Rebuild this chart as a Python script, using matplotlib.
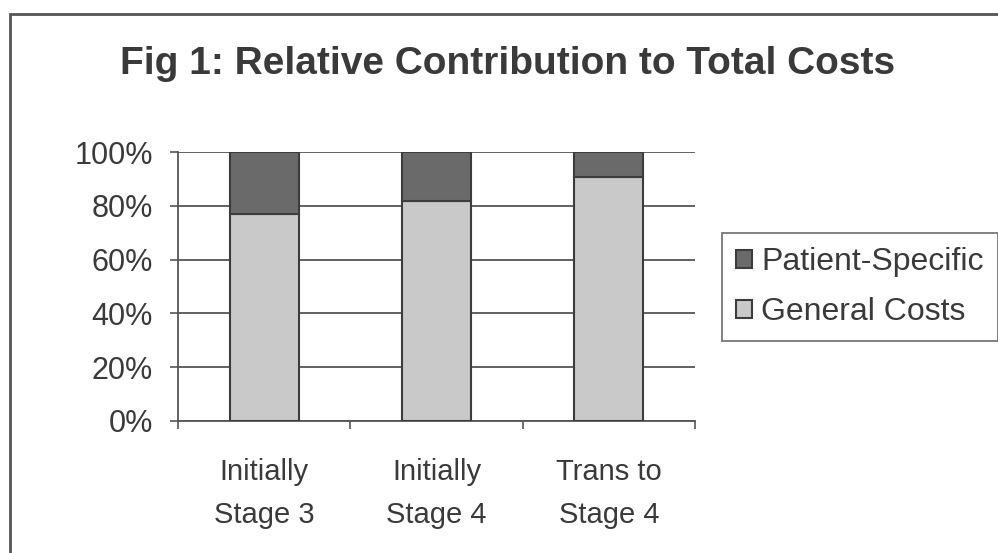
import matplotlib.pyplot as plt
from matplotlib.patches import Rectangle
from matplotlib.ticker import PercentFormatter

categories = ["Initially\nStage 3", "Initially\nStage 4", "Trans to\nStage 4"]
general = [77.1, 81.7, 90.7]
patient = [22.9, 18.3, 9.3]
series_names = ["Patient-Specific", "General Costs"]

plt.rcParams['font.family'] = ['Liberation Sans', 'DejaVu Sans']
txt = '#3a3a3a'

fig = plt.figure(figsize=(9.98, 5.53), dpi=100)
ax = fig.add_axes([0.1784, 0.2387, 0.518, 0.4864])

x = range(len(categories))
b1 = ax.bar(x, general, width=0.4, color='#c9c9c9', edgecolor='#3c3c3c', lw=1.5, zorder=3)
b2 = ax.bar(x, patient, width=0.4, bottom=general, color='#6a6a6a', edgecolor='#3c3c3c', lw=1.5, zorder=3)

ax.set_xlim(-0.5, 2.5)
ax.set_ylim(0, 100)
ax.set_yticks(range(0, 101, 20))
ax.yaxis.set_major_formatter(PercentFormatter(decimals=0))
ax.grid(axis='y', color='#555555', lw=1.3, zorder=1)

ax.set_xticks([-0.5, 0.5, 1.5, 2.5])
ax.set_xticklabels([])
ax.set_xticks(list(x), minor=True)
ax.set_xticklabels(categories, minor=True, fontsize=21, color=txt, linespacing=1.65)
ax.tick_params(axis='x', which='major', length=6, width=1.2, color='#555555', direction='out')
ax.tick_params(axis='x', which='minor', length=0, pad=27)
ax.tick_params(axis='y', length=6, width=1.2, color='#555555', labelsize=22, labelcolor=txt, pad=12)

for s in ['top', 'right']:
    ax.spines[s].set_visible(False)
for s in ['left', 'bottom']:
    ax.spines[s].set_color('#555555')
    ax.spines[s].set_linewidth(1.3)

fig.text(0.509, 0.884, "Fig 1: Relative Contribution to Total Costs", ha='center', va='center',
         fontsize=28, fontweight='bold', color=txt)

leg = fig.legend([b2, b1], series_names, loc='upper left', bbox_to_anchor=(0.723, 0.579),
                 borderaxespad=0, fontsize=23, frameon=True, fancybox=False,
                 handlelength=0.5, handleheight=0.5, handletextpad=0.3,
                 labelspacing=0.62, borderpad=0.45, labelcolor=txt)
leg.get_frame().set_edgecolor('#555555')
leg.get_frame().set_linewidth(1.3)

fig.patches.append(Rectangle((10 / 998, -0.1), 1.2, 1 - 14 / 553 + 0.1, transform=fig.transFigure,
                             fill=False, edgecolor='#555555', lw=2))

fig.savefig('out.png', dpi=100)
